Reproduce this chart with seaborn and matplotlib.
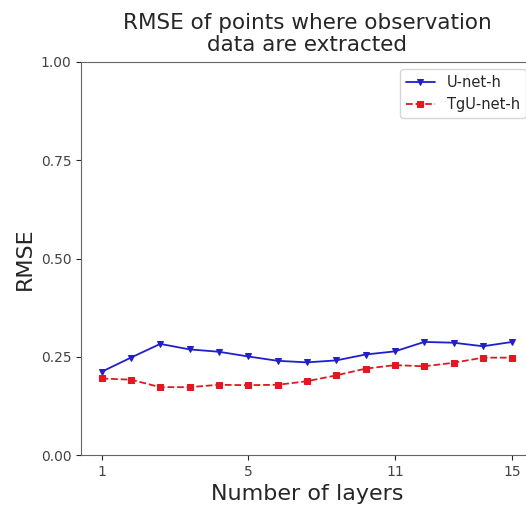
import numpy as np
import pandas as pd
import matplotlib
matplotlib.use("Agg")
import matplotlib.pyplot as plt
import seaborn as sb

layers = np.arange(1, 16)
unet_h = [0.212, 0.248, 0.283, 0.269, 0.263, 0.251, 0.240, 0.236, 0.241, 0.256,
          0.264, 0.288, 0.286, 0.277, 0.288]
tgunet_h = [0.195, 0.192, 0.173, 0.173, 0.179, 0.178, 0.179, 0.188, 0.203, 0.220,
            0.229, 0.226, 0.235, 0.248, 0.248]
tick_pos = [0, 5, 10, 14]
tick_labels = ["1", "5", "11", "15"]

sb.set_style("ticks")
plt.rcParams["font.family"] = ["DejaVu Sans"]

fig = plt.figure(figsize=(5.26, 5.08), dpi=100)
ax = fig.add_axes([0.154, 0.104, 0.859, 0.774])

idx = np.arange(len(layers))
df = pd.DataFrame({"idx": idx, "U-net-h": unet_h, "TgU-net-h": tgunet_h})

sb.lineplot(data=df, x="idx", y="U-net-h", ax=ax, color="#1f1fd0", marker="v",
            markersize=4.5, markeredgecolor="#1f1fd0", linewidth=1.3, label="U-net-h")
sb.lineplot(data=df, x="idx", y="TgU-net-h", ax=ax, color="#e8141e", marker="s",
            markersize=4.5, markeredgecolor="#e8141e", linewidth=1.3, linestyle="--",
            label="TgU-net-h")

ax.set_ylim(0, 1)
ax.set_yticks([0, 0.25, 0.5, 0.75, 1.0])
ax.set_yticklabels(["0.00", "0.25", "0.50", "0.75", "1.00"], fontsize=10, color="#444444")
ax.set_xticks(tick_pos)
ax.set_xticklabels(tick_labels, fontsize=10, color="#444444")
ax.set_xlabel("Number of layers", fontsize=16)
ax.set_ylabel("RMSE", fontsize=16)
ax.set_title("RMSE of points where observation\ndata are extracted", fontsize=15.5,
             linespacing=1.1, pad=8)
for s in ax.spines.values():
    s.set_color("#666666")
ax.legend(loc="upper right", fontsize=10.5, frameon=True)

plt.savefig("out.png", dpi=100)
plt.close()
